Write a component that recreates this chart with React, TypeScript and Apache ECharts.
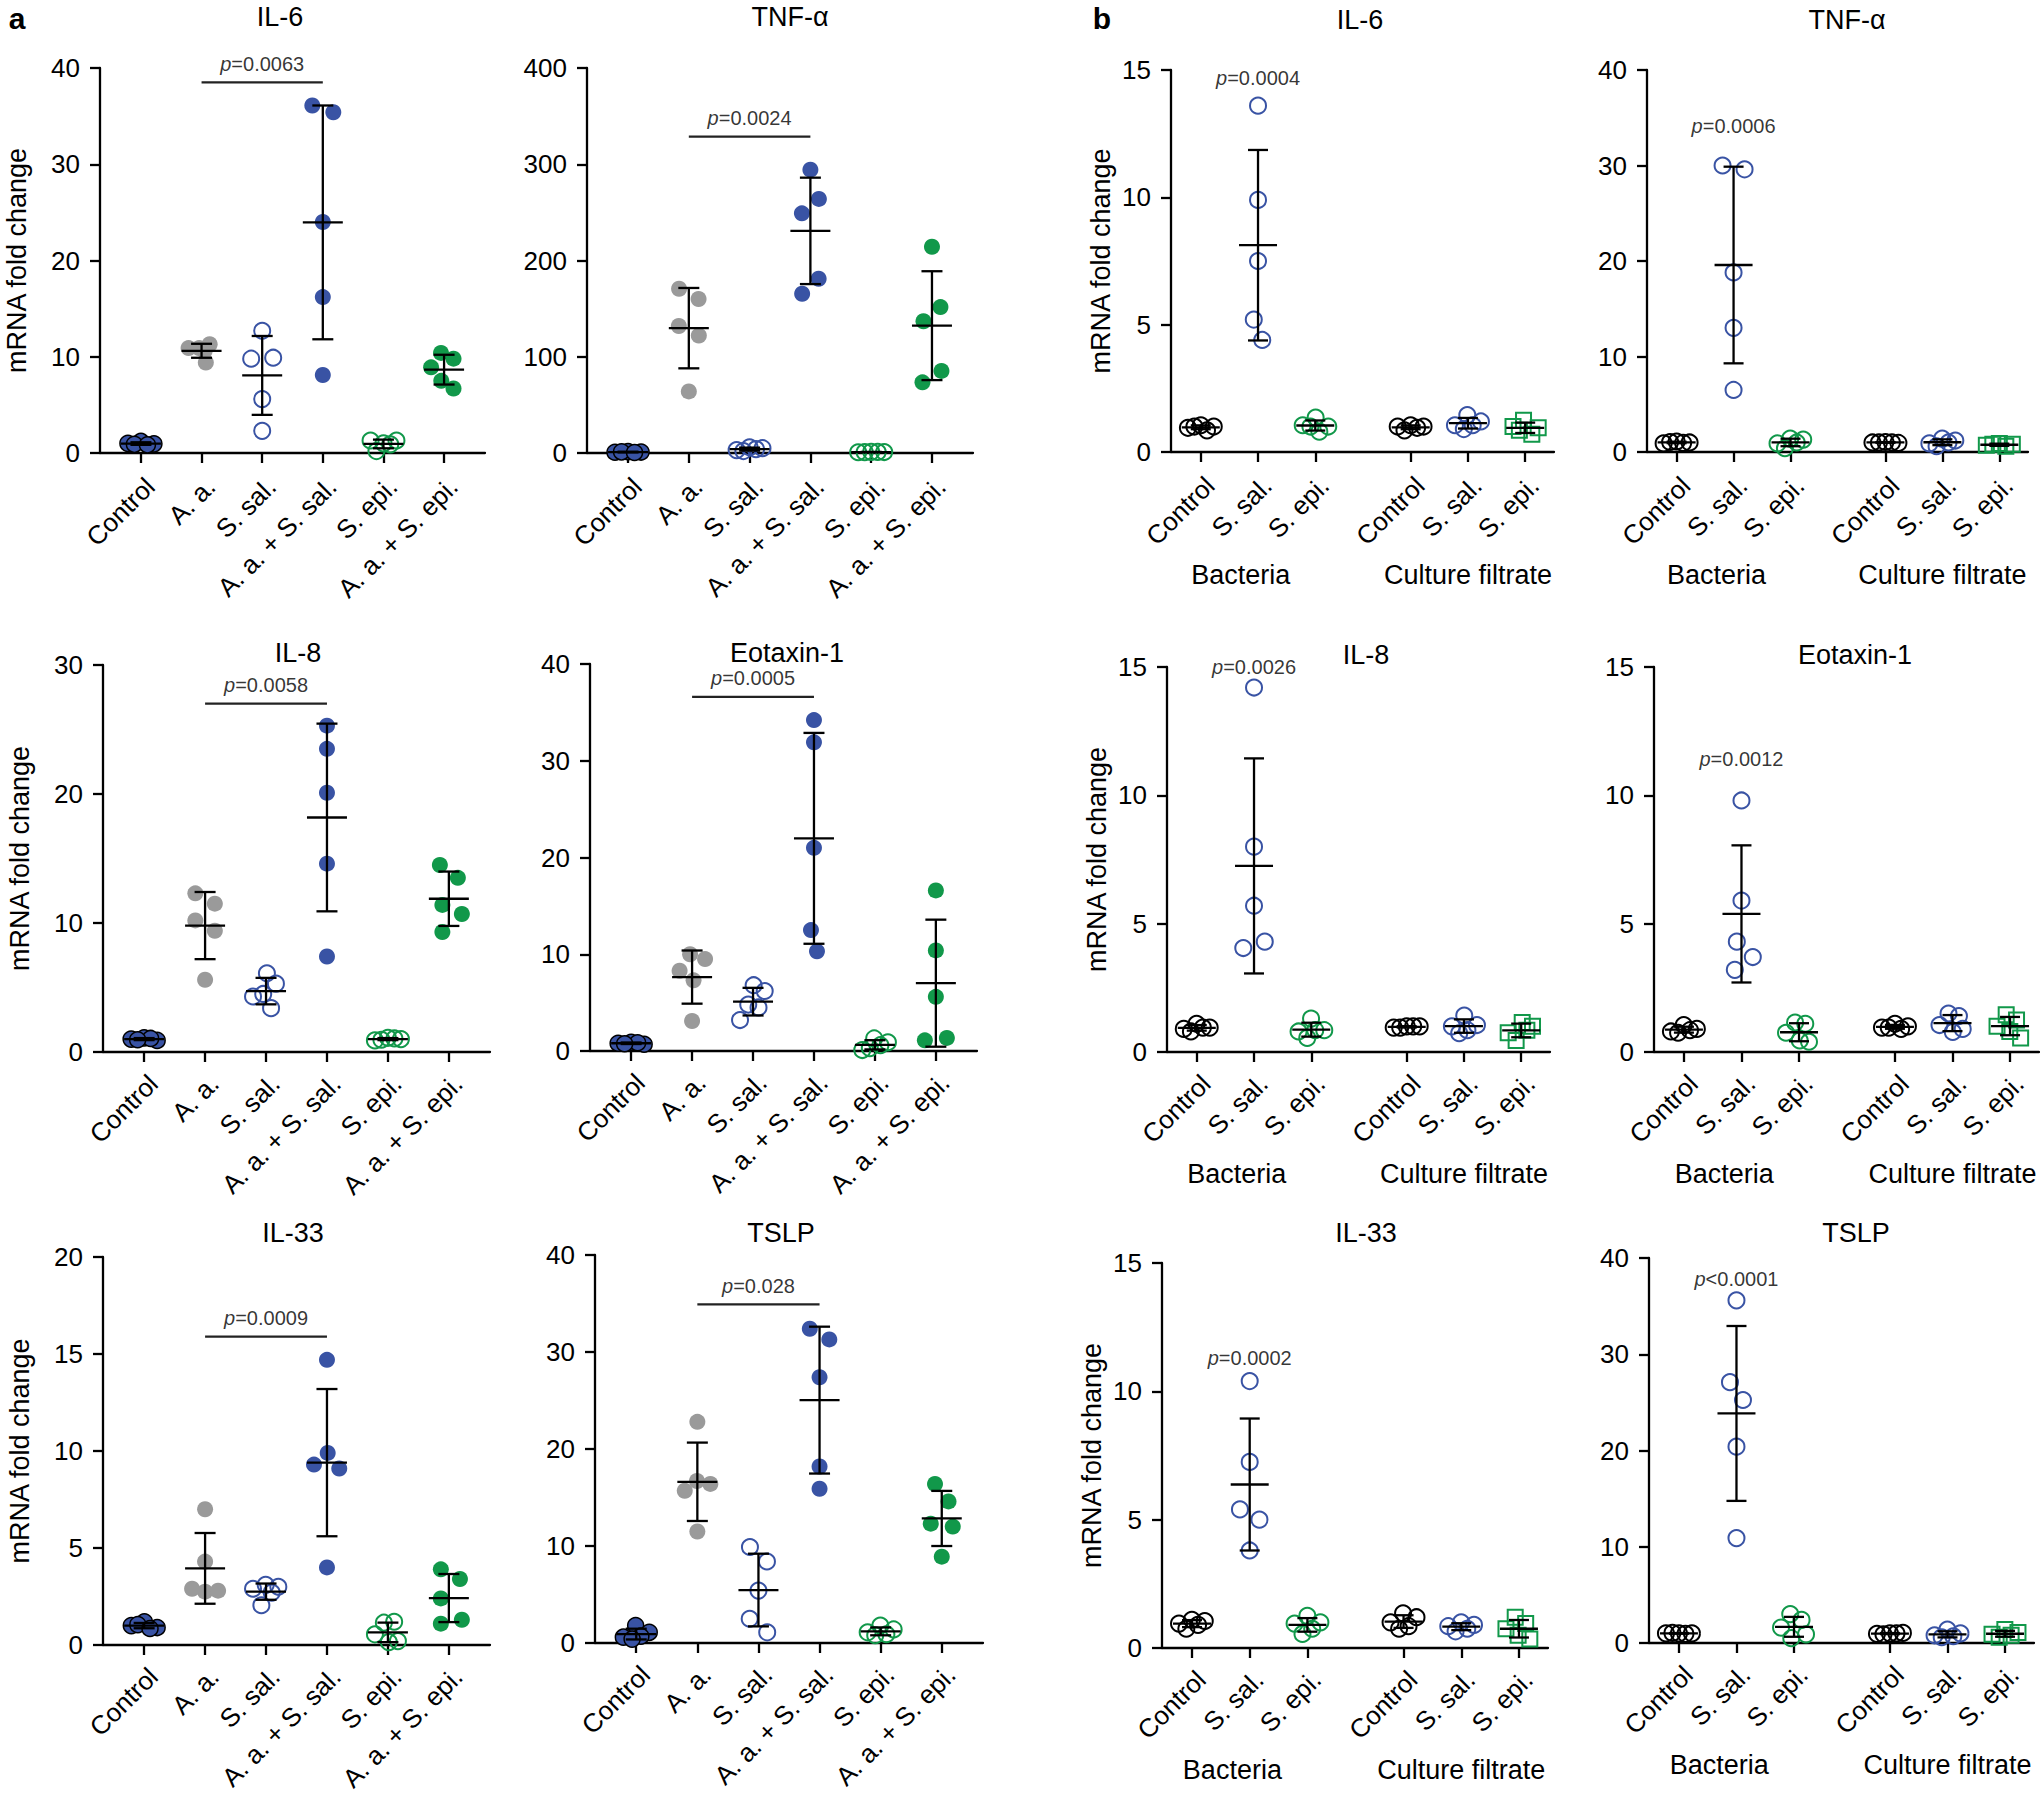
import React, { useEffect, useRef } from "react";
import * as echarts from "echarts";

const FONT = "'Liberation Sans', Arial, Helvetica, sans-serif";
const BLUE = "#3953a4";
const GREY = "#9a9a9a";
const GREEN = "#11984a";
const BLACK = "#000000";
const LW = 2.3;

// ---------- categories / labels ----------
const catsA = ["Control", "A. a.", "S. sal.", "A. a. + S. sal.", "S. epi.", "A. a. + S. epi."];
const catsB = ["Control", "S. sal.", "S. epi.", "Control", "S. sal.", "S. epi."];
const groupsB = ["Bacteria", "Culture filtrate"];
const yTitle = "mRNA fold change";
const panelLetters = ["a", "b"];

// ---------- panel a ----------
const titlesA = ["IL-6", "TNF-α", "IL-8", "Eotaxin-1", "IL-33", "TSLP"];
const yMaxA = [40, 400, 30, 40, 20, 40];
const yStepA = [10, 100, 10, 10, 5, 10];
const pTextA = ["p=0.0063", "p=0.0024", "p=0.0058", "p=0.0005", "p=0.0009", "p=0.028"];
const pLineA = [38.5, 328.6, 27.0, 36.6, 15.9, 34.9];

const aIL6 = [
  [1.2, 0.95, 1.0, 0.9, 0.85],
  [10.9, 11.3, 10.9, 9.4, 10.6],
  [12.7, 9.8, 9.9, 5.6, 2.3],
  [36.1, 35.4, 24.0, 16.2, 8.1],
  [1.0, 1.3, 1.3, 0.9, 0.2],
  [10.4, 9.8, 8.9, 7.5, 6.7],
];
const aTNF = [
  [1.5, 1.0, 0.8, 1.2, 0.5],
  [170.6, 160, 132, 122, 64],
  [6, 5, 3, 4, 2],
  [294.4, 249, 264, 165.5, 181],
  [1.2, 1.0, 0.8, 1.1, 0.9],
  [214.3, 136.9, 151.6, 73.4, 85.3],
];
const aIL8 = [
  [1.1, 0.9, 1.0, 1.05, 0.95],
  [12.3, 11.5, 10.2, 9.4, 5.6],
  [6.1, 5.3, 4.5, 4.3, 3.4],
  [25.3, 23.5, 20.1, 14.6, 7.4],
  [1.1, 1.0, 0.9, 1.05, 0.95],
  [14.5, 13.5, 11.4, 10.7, 9.3],
];
const aEot = [
  [0.9, 0.7, 0.8, 0.85, 0.75],
  [10.0, 9.5, 8.3, 7.3, 3.1],
  [6.8, 6.2, 4.8, 4.5, 3.2],
  [34.2, 31.9, 21.0, 12.5, 10.3],
  [1.3, 0.9, 0.1, 0.6, 0.3],
  [16.6, 10.4, 5.6, 1.1, 1.35],
];
const aIL33 = [
  [1.2, 0.9, 1.0, 1.05, 0.85],
  [7.0, 4.3, 2.75, 2.8, 2.9],
  [3.1, 3.0, 2.9, 2.7, 2.05],
  [14.7, 9.9, 9.1, 9.3, 4.0],
  [1.15, 1.2, 0.55, 0.15, 0.2],
  [3.9, 3.4, 2.4, 1.1, 1.3],
];
const aTSLP = [
  [1.8, 1.1, 0.6, 0.7, 0.4],
  [22.8, 16.7, 16.4, 15.7, 11.5],
  [9.9, 8.4, 5.4, 2.5, 1.1],
  [32.4, 31.3, 27.4, 18.2, 15.9],
  [1.8, 1.4, 1.1, 0.9, 0.8],
  [16.4, 14.6, 12.3, 12.0, 8.9],
];

// ---------- panel b ----------
const titlesB = ["IL-6", "TNF-α", "IL-8", "Eotaxin-1", "IL-33", "TSLP"];
const yMaxB = [15, 40, 15, 15, 15, 40];
const yStepB = [5, 10, 5, 5, 5, 10];
const pTextB = ["p=0.0004", "p=0.0006", "p=0.0026", "p=0.0012", "p=0.0002", "p<0.0001"];
const pYB = [14.7, 34.1, 15.0, 11.4, 11.3, 37.8];

const bIL6 = [
  [1.05, 1.0, 0.95, 1.0, 0.85],
  [13.6, 9.9, 7.5, 5.2, 4.4],
  [1.35, 1.0, 1.05, 1.0, 0.8],
  [1.05, 1.0, 1.0, 0.95, 0.85],
  [1.45, 1.2, 1.05, 1.05, 0.9],
  [1.25, 0.7, 1.0, 0.95, 0.85],
];
const bTNF = [
  [1.1, 1.0, 0.9, 0.95, 1.05],
  [30.0, 29.6, 18.8, 13.0, 6.5],
  [1.4, 1.3, 0.9, 1.0, 0.4],
  [1.05, 0.95, 1.0, 1.0, 1.0],
  [1.4, 1.2, 0.9, 1.0, 0.6],
  [0.9, 0.8, 0.7, 0.6, 0.8],
];
const bIL8 = [
  [1.1, 0.95, 0.9, 0.95, 0.8],
  [14.2, 8.0, 5.7, 4.05, 4.3],
  [1.3, 0.85, 0.8, 0.85, 0.55],
  [1.0, 1.0, 0.95, 1.0, 0.95],
  [1.42, 1.05, 1.0, 0.85, 0.73],
  [1.15, 1.0, 0.45, 0.75, 0.85],
];
const bEot = [
  [1.05, 0.9, 0.8, 0.85, 0.75],
  [9.8, 5.9, 4.3, 3.7, 3.2],
  [1.15, 1.1, 0.75, 0.45, 0.4],
  [1.1, 1.0, 0.95, 0.9, 0.95],
  [1.5, 1.4, 1.05, 0.78, 0.9],
  [1.45, 1.25, 1.0, 0.8, 0.55],
];
const bIL33 = [
  [1.1, 1.05, 0.95, 0.9, 0.75],
  [10.4, 7.25, 5.4, 5.0, 3.8],
  [1.25, 1.0, 0.95, 0.75, 0.55],
  [1.35, 1.2, 1.0, 0.85, 0.75],
  [1.0, 0.9, 0.85, 0.75, 0.65],
  [1.2, 0.95, 0.75, 0.5, 0.35],
];
const bTSLP = [
  [1.0, 1.0, 1.0, 0.95, 1.05],
  [35.6, 27.1, 25.25, 20.4, 10.9],
  [3.0, 2.4, 1.6, 0.5, 0.9],
  [1.0, 1.05, 0.95, 1.0, 0.9],
  [1.4, 1.0, 0.8, 0.7, 0.6],
  [1.4, 1.1, 0.9, 0.8, 0.6],
];

const valuesA = [aIL6, aTNF, aIL8, aEot, aIL33, aTSLP];
const valuesB = [bIL6, bTNF, bIL8, bEot, bIL33, bTSLP];

// ---------- layout ----------
const posA = [0, 1, 2, 3, 4, 5];
const posB = [0, 1, 2, 11 / 3, 14 / 3, 17 / 3];
const groupPosB = [0.7, 14 / 3];
const rangeA: [number, number] = [-0.675, 5.675];
const rangeB: [number, number] = [-0.52, 6.17];

type Box = { left: number; top: number; width: number; height: number; tx: number; ty: number };
const boxesA: Box[] = [
  { left: 100, top: 68, width: 385, height: 385, tx: 280, ty: 17 },
  { left: 587, top: 68, width: 386, height: 385, tx: 790, ty: 17 },
  { left: 103, top: 665, width: 387, height: 387, tx: 298, ty: 652.5 },
  { left: 590, top: 664, width: 387, height: 387, tx: 787, ty: 652.5 },
  { left: 103, top: 1257, width: 387, height: 388, tx: 293, ty: 1233 },
  { left: 595, top: 1255, width: 388, height: 388, tx: 781, ty: 1233 },
];
const boxesB: Box[] = [
  { left: 1171, top: 70, width: 383, height: 382, tx: 1360, ty: 19.5 },
  { left: 1647, top: 70, width: 381, height: 382, tx: 1847, ty: 19.5 },
  { left: 1167, top: 667, width: 383, height: 385, tx: 1366, ty: 655 },
  { left: 1654, top: 667, width: 385, height: 385, tx: 1855, ty: 655 },
  { left: 1162, top: 1263, width: 386, height: 385, tx: 1366, ty: 1233 },
  { left: 1649, top: 1258, width: 385, height: 385, tx: 1856, ty: 1233 },
];
const letterX = [17, 1102];

type Sty = { symbol: string; size: number; fill: string; stroke: string; bw: number };
const NONE = "rgba(0,0,0,0)";
const stylesA: Sty[] = [
  { symbol: "circle", size: 16, fill: BLUE, stroke: BLACK, bw: 1.5 },
  { symbol: "circle", size: 16, fill: GREY, stroke: GREY, bw: 0 },
  { symbol: "circle", size: 16, fill: NONE, stroke: BLUE, bw: 2 },
  { symbol: "circle", size: 16, fill: BLUE, stroke: BLUE, bw: 0 },
  { symbol: "circle", size: 16, fill: NONE, stroke: GREEN, bw: 2 },
  { symbol: "circle", size: 16, fill: GREEN, stroke: GREEN, bw: 0 },
];
const stylesB: Sty[] = [
  { symbol: "circle", size: 16, fill: NONE, stroke: BLACK, bw: 2 },
  { symbol: "circle", size: 16, fill: NONE, stroke: BLUE, bw: 2 },
  { symbol: "circle", size: 16, fill: NONE, stroke: GREEN, bw: 2 },
  { symbol: "circle", size: 16, fill: NONE, stroke: BLACK, bw: 2 },
  { symbol: "circle", size: 16, fill: NONE, stroke: BLUE, bw: 2 },
  { symbol: "rect", size: 15, fill: NONE, stroke: GREEN, bw: 2 },
];

// ---------- helpers ----------
const mean = (a: number[]) => a.reduce((s, v) => s + v, 0) / a.length;
const sd = (a: number[]) => {
  const m = mean(a);
  return Math.sqrt(a.reduce((s, v) => s + (v - m) * (v - m), 0) / (a.length - 1));
};
const nearest = (arr: number[], v: number) => {
  let bi = 0;
  arr.forEach((a, i) => {
    if (Math.abs(a - v) < Math.abs(arr[bi] - v)) bi = i;
  });
  return bi;
};

// beeswarm-like horizontal spreading (pixel offsets), as in a scatter dot plot
function swarm(vals: number[], pxY: number, D = 22, Wmax = 13): number[] {
  const placed: { x: number; y: number }[] = [];
  const cands = [0];
  for (let k = 1; k <= 60; k++) cands.push(k * 0.5, -k * 0.5);
  for (const v of vals) {
    const y = v * pxY;
    let chosen: number | null = null;
    for (const c of cands) {
      if (placed.every((p) => Math.hypot(c - p.x, y - p.y) >= D)) {
        chosen = c;
        break;
      }
    }
    if (chosen === null) {
      let best = -1;
      for (const c of cands) {
        const md = Math.min(...placed.map((p) => Math.hypot(c - p.x, y - p.y)));
        if (md > best + 1e-9) {
          best = md;
          chosen = c;
        }
      }
    }
    placed.push({ x: chosen as number, y });
  }
  const idx = vals.map((_, i) => i).sort((a, b) => placed[a].y - placed[b].y);
  const clusters: number[][] = [];
  let cur: number[] = [];
  for (const i of idx) {
    if (cur.length && placed[i].y - placed[cur[cur.length - 1]].y >= D) {
      clusters.push(cur);
      cur = [];
    }
    cur.push(i);
  }
  if (cur.length) clusters.push(cur);
  const xs = placed.map((p) => p.x);
  for (const cl of clusters) {
    const m = cl.reduce((s, i) => s + xs[i], 0) / cl.length;
    cl.forEach((i) => (xs[i] -= m));
    const ext = Math.max(...cl.map((i) => Math.abs(xs[i])));
    if (ext > Wmax) cl.forEach((i) => (xs[i] *= Wmax / ext));
  }
  return xs;
}

const pRich = {
  i: { fontStyle: "italic", fontSize: 20, fontFamily: FONT, color: BLACK },
  n: { fontSize: 20, fontFamily: FONT, color: BLACK },
};
const pLabel = (t: string) => `{i|${t[0]}}{n|${t.slice(1)}}`;

type Panel = {
  kind: "a" | "b";
  values: number[][];
  title: string;
  ymax: number;
  ystep: number;
  pText: string;
  pY: number;
  box: Box;
  showName: boolean;
  nameGap: number;
  xMargin: number;
  groupMargin: number;
  pDist: number;
};

function buildPanels(): Panel[] {
  const out: Panel[] = [];
  for (let k = 0; k < 6; k++) {
    const top = k < 2;
    out.push({
      kind: "a",
      values: valuesA[k],
      title: titlesA[k],
      ymax: yMaxA[k],
      ystep: yStepA[k],
      pText: pTextA[k],
      pY: pLineA[k],
      box: boxesA[k],
      showName: k % 2 === 0,
      nameGap: 70,
      xMargin: top ? 20 : 18,
      groupMargin: 0,
      pDist: 8,
    });
    out.push({
      kind: "b",
      values: valuesB[k],
      title: titlesB[k],
      ymax: yMaxB[k],
      ystep: yStepB[k],
      pText: pTextB[k],
      pY: pYB[k],
      box: boxesB[k],
      showName: k % 2 === 0,
      nameGap: 57,
      xMargin: top ? 20 : 18,
      groupMargin: top ? 109 : 108,
      pDist: 0,
    });
  }
  return out;
}

function buildOption(panels: Panel[], extraGraphics: any[]) {
  const grid: any[] = [];
  const xAxis: any[] = [];
  const yAxis: any[] = [];
  const series: any[] = [];
  const graphic: any[] = [...extraGraphics];
  const axisLine = { show: true, onZero: false, lineStyle: { color: BLACK, width: LW } };
  const tickStyle = { color: BLACK, width: LW };

  panels.forEach((p, gi) => {
    const b = p.box;
    const pos = p.kind === "a" ? posA : posB;
    const [xmin, xmax] = p.kind === "a" ? rangeA : rangeB;
    const labels = p.kind === "a" ? catsA : catsB;
    const styles = p.kind === "a" ? stylesA : stylesB;
    const pxX = b.width / (xmax - xmin);
    const pxY = b.height / p.ymax;

    grid.push({ left: b.left, top: b.top, width: b.width, height: b.height, containLabel: false, outerBoundsMode: "none" });
    const xi = xAxis.length;
    xAxis.push({
      type: "value",
      gridIndex: gi,
      min: xmin,
      max: xmax,
      position: "bottom",
      axisLine,
      axisTick: { show: true, customValues: pos, length: 10, lineStyle: tickStyle },
      axisLabel: {
        show: true,
        customValues: pos,
        formatter: (v: number) => labels[nearest(pos, v)],
        rotate: 45,
        align: "right",
        verticalAlign: "top",
        margin: p.xMargin,
        fontSize: 26,
        color: BLACK,
        fontFamily: FONT,
      },
      splitLine: { show: false },
    });
    if (p.kind === "b") {
      xAxis.push({
        type: "value",
        gridIndex: gi,
        min: xmin,
        max: xmax,
        position: "bottom",
        axisLine: { show: false },
        axisTick: { show: false },
        axisLabel: {
          show: true,
          customValues: groupPosB,
          formatter: (v: number) => groupsB[nearest(groupPosB, v)],
          margin: p.groupMargin,
          fontSize: 27,
          color: BLACK,
          fontFamily: FONT,
        },
        splitLine: { show: false },
      });
    }
    yAxis.push({
      type: "value",
      gridIndex: gi,
      min: 0,
      max: p.ymax,
      interval: p.ystep,
      axisLine,
      axisTick: { show: true, length: 10, lineStyle: tickStyle },
      axisLabel: { margin: 20, fontSize: 26, color: BLACK, fontFamily: FONT },
      splitLine: { show: false },
      name: p.showName ? yTitle : "",
      nameLocation: "middle",
      nameGap: p.nameGap,
      nameTextStyle: { fontSize: 27, color: BLACK, fontFamily: FONT },
    });

    // points
    p.values.forEach((vals, g) => {
      const st = styles[g];
      const jit = swarm(vals, pxY);
      series.push({
        type: "scatter",
        xAxisIndex: xi,
        yAxisIndex: gi,
        symbol: st.symbol,
        symbolSize: st.size,
        silent: true,
        z: 2,
        itemStyle: { color: st.fill, borderColor: st.stroke, borderWidth: st.bw, opacity: 1 },
        data: vals.map((v, k) => [pos[g] + jit[k] / pxX, v]),
      });
    });

    // mean ± SD
    const half = p.kind === "a" ? 20 : 19;
    const cap = p.kind === "a" ? 10.5 : 10;
    series.push({
      type: "custom",
      xAxisIndex: xi,
      yAxisIndex: gi,
      silent: true,
      z: 5,
      data: p.values.map((vals, g) => {
        const m = mean(vals);
        const s = sd(vals);
        return [pos[g], m, m - s, m + s];
      }),
      renderItem: (_params: any, api: any) => {
        const x = api.value(0);
        const m = api.coord([x, api.value(1)]);
        const lo = api.coord([x, api.value(2)]);
        const hi = api.coord([x, api.value(3)]);
        const style = { stroke: BLACK, lineWidth: LW, fill: null };
        return {
          type: "group",
          children: [
            { type: "line", shape: { x1: m[0] - half, y1: m[1], x2: m[0] + half, y2: m[1] }, style },
            { type: "line", shape: { x1: lo[0], y1: lo[1], x2: hi[0], y2: hi[1] }, style },
            { type: "line", shape: { x1: lo[0] - cap, y1: lo[1], x2: lo[0] + cap, y2: lo[1] }, style },
            { type: "line", shape: { x1: hi[0] - cap, y1: hi[1], x2: hi[0] + cap, y2: hi[1] }, style },
          ],
        };
      },
    });

    // p value
    if (p.kind === "a") {
      series.push({
        type: "line",
        xAxisIndex: xi,
        yAxisIndex: gi,
        silent: true,
        symbol: "none",
        z: 4,
        lineStyle: { color: "#222", width: LW },
        data: [
          [1, p.pY],
          [3, p.pY],
        ],
      });
      series.push({
        type: "scatter",
        xAxisIndex: xi,
        yAxisIndex: gi,
        silent: true,
        symbolSize: 1,
        itemStyle: { color: NONE },
        z: 6,
        label: { show: true, position: "top", distance: p.pDist, formatter: () => pLabel(p.pText), rich: pRich },
        data: [[2, p.pY]],
      });
    } else {
      series.push({
        type: "scatter",
        xAxisIndex: xi,
        yAxisIndex: gi,
        silent: true,
        symbolSize: 1,
        itemStyle: { color: NONE },
        z: 6,
        label: { show: true, position: "inside", formatter: () => pLabel(p.pText), rich: pRich },
        data: [[1, p.pY]],
      });
    }

    graphic.push({
      type: "text",
      x: b.tx,
      y: b.ty,
      style: { text: p.title, fontSize: 27, fontFamily: FONT, fill: BLACK, align: "center", verticalAlign: "middle" },
    });
  });

  return { animation: false, backgroundColor: "#ffffff", grid, xAxis, yAxis, series, graphic };
}

export default function App() {
  const ref = useRef<HTMLDivElement>(null);

  useEffect(() => {
    if (!ref.current) return;
    const chart = echarts.init(ref.current, null, { renderer: "svg" });
    const letters = panelLetters.map((t, i) => ({
      type: "text",
      x: letterX[i],
      y: 3,
      style: { text: t, fontSize: 30, fontWeight: "bold", fontFamily: FONT, fill: BLACK, align: "center", verticalAlign: "top" },
    }));
    chart.setOption(buildOption(buildPanels(), letters));
    return () => {
      chart.dispose();
    };
  }, []);

  return (
    <div style={{ position: "absolute", left: 0, top: 0, width: 2040, height: 1804, background: "#fff", overflow: "hidden" }}>
      <div ref={ref} style={{ width: 2040, height: 1804 }} />
    </div>
  );
}
